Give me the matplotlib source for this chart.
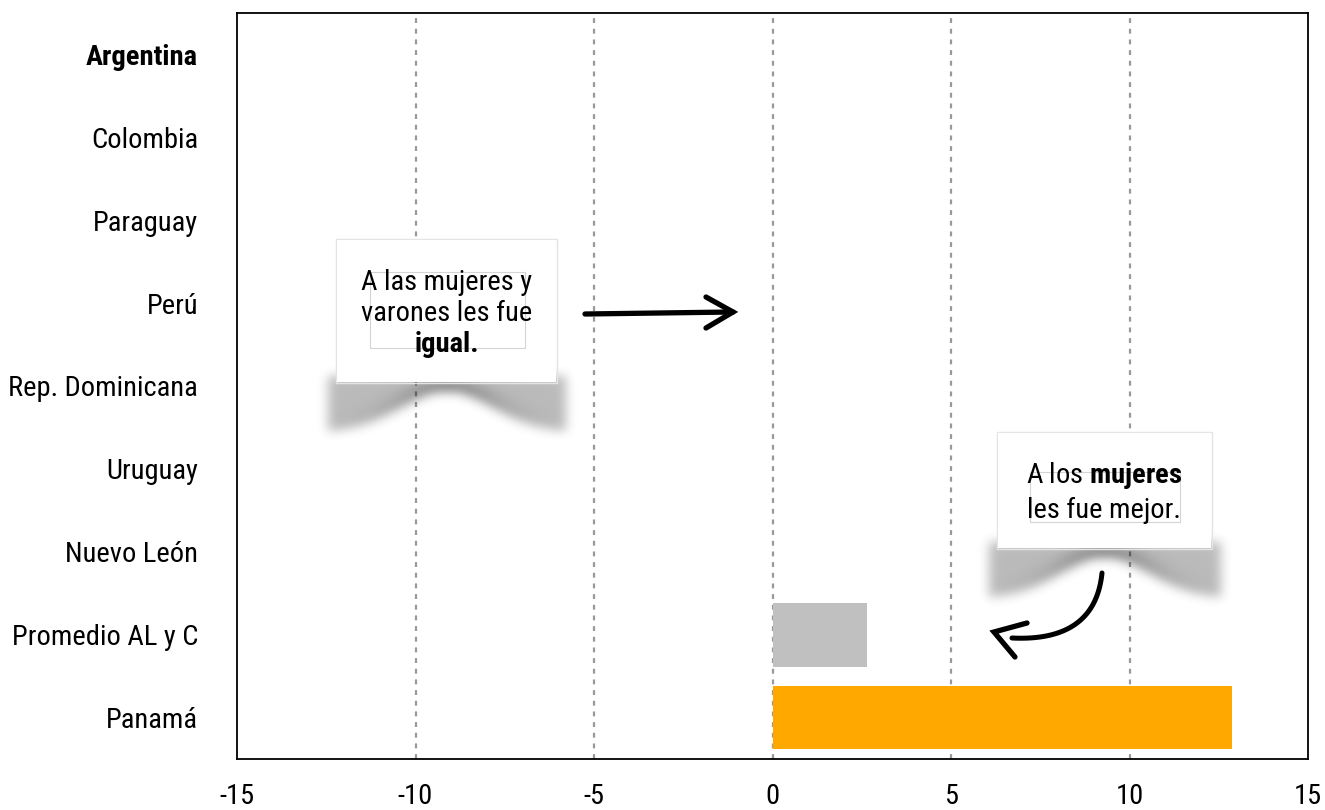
import numpy as np
import matplotlib
matplotlib.use("Agg")
import matplotlib.pyplot as plt
from matplotlib import font_manager as fm
from matplotlib.patches import Rectangle

categories = ["Argentina", "Colombia", "Paraguay", "Perú", "Rep. Dominicana",
              "Uruguay", "Nuevo León", "Promedio AL y C", "Panamá"]
values = [0, 0, 0, 0, 0, 0, 0, 2.65, 12.87]
colors = ["#ffa500"] * 7 + ["#c0c0c0", "#ffa800"]
xticks = [-15, -10, -5, 0, 5, 10, 15]

names = {f.name for f in fm.fontManager.ttflist}
FONT = next((n for n in ["Roboto Condensed", "Fira Sans Condensed", "Encode Sans Condensed",
                         "PT Sans Narrow"] if n in names), "DejaVu Sans")
plt.rcParams["font.family"] = [FONT, "DejaVu Sans"]
plt.rcParams["mathtext.fontset"] = "custom"
plt.rcParams["mathtext.rm"] = FONT
plt.rcParams["mathtext.bf"] = FONT + ":bold"

W, H = 1325, 810
fig = plt.figure(figsize=(W / 100, H / 100), dpi=100)
ax = fig.add_axes([237 / W, 1 - 759 / H, (1308 - 237) / W, (759 - 13) / H])

y = np.arange(len(categories))
ax.barh(y, values, height=0.77, color=colors, zorder=2)
ax.set_xlim(-15, 15)
ax.set_ylim(len(categories) - 0.5, -0.5)
ax.set_yticks(y)
ax.set_yticklabels(categories, fontsize=20.5)
ax.get_yticklabels()[0].set_fontweight("bold")
ax.set_xticks(xticks)
ax.set_xticklabels([str(t) for t in xticks], fontsize=20.5)
ax.tick_params(length=0)
ax.tick_params(axis="y", pad=28)
ax.tick_params(axis="x", pad=17)
for t in xticks[1:-1]:
    ax.axvline(t, color="#999999", lw=1.6, ls=(0, (2.2, 2.6)), zorder=1)
for s in ["left", "top", "right", "bottom"]:
    ax.spines[s].set_color("black")
    ax.spines[s].set_linewidth(1.3)

# overlay in pixel coordinates for the annotations
ov = fig.add_axes([0, 0, 1, 1], zorder=5)
ov.set_xlim(0, W)
ov.set_ylim(H, 0)
ov.axis("off")
ov.patch.set_alpha(0)


def blur(a, s):
    r = int(3 * s)
    k = np.exp(-0.5 * (np.arange(-r, r + 1) / s) ** 2)
    k /= k.sum()
    a = np.apply_along_axis(lambda m: np.convolve(m, k, mode="same"), 0, a)
    a = np.apply_along_axis(lambda m: np.convolve(m, k, mode="same"), 1, a)
    return a


def shadow(x0, x1, ybot, depth):
    pad = 30
    bw = x1 - x0
    w = int(bw) + 2 * pad
    h = int(depth) + 2 * pad
    xx, yy = np.meshgrid(np.arange(w) + x0 - pad, np.arange(h) + ybot - pad)
    xc = (x0 + x1) / 2
    bound = ybot + depth - (depth - 8) * np.exp(-((xx - xc) / (bw * 0.30)) ** 2)
    dist = bound - yy
    inside = (xx >= x0 - 9) & (xx <= x1 + 9) & (yy >= ybot - 6) & (dist > 0)
    val = 0.27 + 0.45 * np.exp(-np.clip(dist, 0, None) / 8) * np.exp(-((xx - xc) / (bw * 0.30)) ** 2)
    mask = np.where(inside, val, 0.0)
    mask = blur(mask, 5.5)
    img = np.zeros((h, w, 4))
    img[..., 3] = mask
    ov.imshow(img, extent=(x0 - pad, x1 + pad, ybot - pad + h, ybot - pad),
              interpolation="bilinear", zorder=1, aspect="auto")


def box(x0, x1, y0, y1, inner):
    shadow(x0, x1, y1, 50)
    ov.add_patch(Rectangle((x0 - 1, y0 - 1), x1 - x0 + 2, y1 - y0 + 2, fc="none",
                           ec="#e4e4e4", lw=1.0, zorder=2))
    ov.add_patch(Rectangle((x0, y0), x1 - x0, y1 - y0, fc="white", ec="none", zorder=2))
    ix0, ix1, iy0, iy1 = inner
    ov.add_patch(Rectangle((ix0, iy0), ix1 - ix0, iy1 - iy0, fc="none",
                           ec="#d4d4d4", lw=0.8, zorder=3))


box(337, 556, 240, 382, (370, 525, 272, 348))
ov.text(447, 298, "A las mujeres y\nvarones les fue", ha="center",
        va="center", fontsize=20.5, linespacing=1.2, zorder=4)
ov.text(447, 344, "igual.", ha="center", va="center", fontsize=20.5,
        fontweight="bold", zorder=4)

box(998, 1211, 433, 548, (1030, 1180, 472, 522))
ov.text(1104, 492, "A los $\\mathbf{mujeres}$\nles fue mejor.", ha="center",
        va="center", fontsize=20.5, linespacing=1.25, zorder=4)

# straight arrow
ov.plot([585, 733], [314, 312], color="black", lw=3.8,
        solid_capstyle="round", zorder=6)
ov.plot([706, 733, 706], [297, 312, 328], color="black", lw=3.8,
        solid_capstyle="round", solid_joinstyle="miter", zorder=6)

# curved arrow
t = np.linspace(0, 1, 60)
P0, P1, P2 = np.array([1102, 573]), np.array([1095, 642]), np.array([1012, 638])
curve = ((1 - t) ** 2)[:, None] * P0 + (2 * (1 - t) * t)[:, None] * P1 + (t ** 2)[:, None] * P2
ov.plot(curve[:, 0], curve[:, 1], color="black", lw=3.6, solid_capstyle="round", zorder=6)
ov.plot([1027, 994, 1015], [623, 632, 657], color="black", lw=3.8,
        solid_capstyle="round", solid_joinstyle="miter", zorder=6)

fig.savefig("out.png", dpi=100)
